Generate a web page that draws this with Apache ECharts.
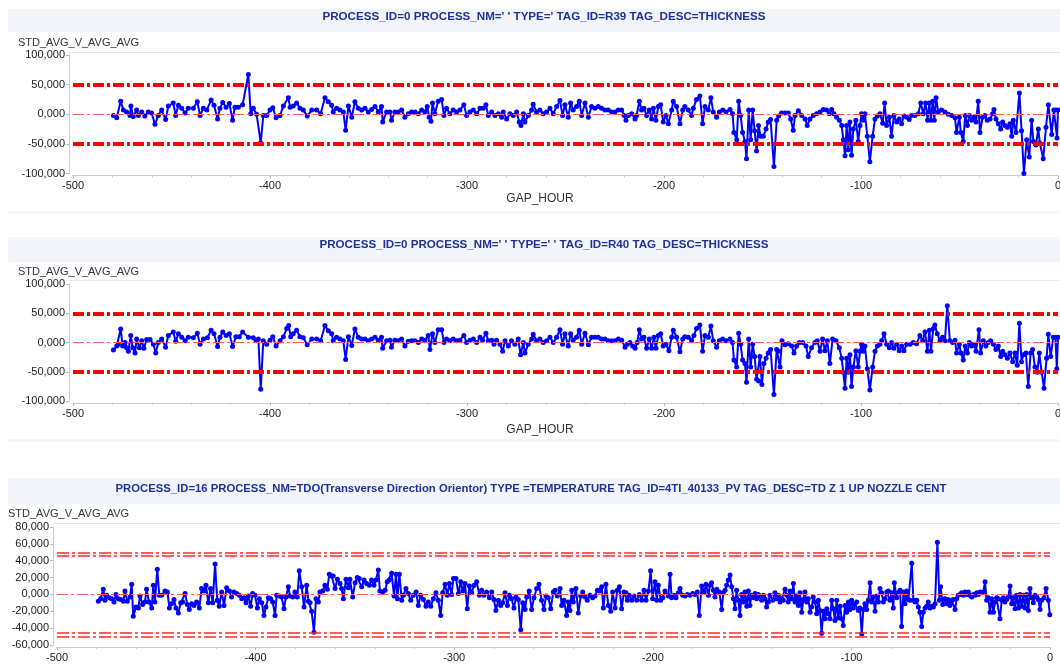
<!DOCTYPE html>
<html><head><meta charset="utf-8">
<script src="https://cdn.jsdelivr.net/npm/echarts@6/dist/echarts.min.js"></script>
<style>html,body{margin:0;padding:0;background:#fff}#c{width:1060px;height:666px}</style>
</head><body><div id="c"></div>
<script>
const panelTitles = [
  "PROCESS_ID=0 PROCESS_NM=' ' TYPE=' TAG_ID=R39 TAG_DESC=THICKNESS",
  "PROCESS_ID=0 PROCESS_NM=' ' TYPE=' ' TAG_ID=R40 TAG_DESC=THICKNESS",
  "PROCESS_ID=16 PROCESS_NM=TDO(Transverse Direction Orientor) TYPE =TEMPERATURE TAG_ID=4TI_40133_PV TAG_DESC=TD Z 1 UP NOZZLE CENT"
];
const yAxisName = 'STD_AVG_V_AVG_AVG';
const xAxisName = 'GAP_HOUR';
const xRange = [-500, 0];
const xStep = 100;
const thicknessRange = [-100000, 100000];
const thicknessStep = 50000;
const tempRange = [-60000, 80000];
const tempStep = 20000;
const thicknessLimits = [50000, -50000];
const tempLimits = [50000, 45500, -45500, -50000];
const centerValue = 0;

// [GAP_HOUR, STD_AVG_V_AVG_AVG]
const r39Points = [
[-479.5,-2000],[-477.8,-6000],[-475.8,22000],[-474.4,7000],[-472.8,4000],[-471.1,-2000],[-470.6,14000],[-469.4,-4000],[-467.7,7000],[-466.8,-2000],[-465.1,4000],[-463.5,-3000],[-461.8,4000],[-460.1,2000],[-458.4,-17000],[-456.7,-2000],[-455,7000],[-453,-9000],[-451.6,14000],[-449.1,19000],[-447.9,-2000],[-446.5,15000],[-444.8,10000],[-443.1,2000],[-441.5,10000],[-438.9,10000],[-436.9,21000],[-435.5,-2000],[-433.8,10000],[-432.1,7000],[-429.9,24000],[-428.4,15000],[-426.6,-8000],[-425.4,10000],[-424,20000],[-422.3,12000],[-420.6,18000],[-419,-10000],[-417.8,12000],[-416.1,12000],[-413.9,16000],[-411,67000],[-409.8,1000],[-408.5,10000],[-406.8,0],[-404.7,-48000],[-403.4,-2000],[-401.7,-2000],[-400,7000],[-398.6,11000],[-396.9,-6000],[-394.9,-2000],[-393.2,14000],[-390.7,28000],[-389.8,12000],[-388.2,14000],[-386.5,19000],[-384.8,10000],[-383.1,7000],[-381.1,-3000],[-378.8,7000],[-376.3,7000],[-374.3,1000],[-372.1,28000],[-370.4,21000],[-368.7,15000],[-367.9,4000],[-366.2,10000],[-364.5,7000],[-362.8,4000],[-361.6,-27000],[-360.2,14000],[-358.5,-5000],[-356.9,21000],[-355.2,10000],
[-353.5,7000],[-351.8,10000],[-350.1,4000],[-348.4,8000],[-346.7,13000],[-345,4000],[-343.4,13000],[-342.8,-13000],[-340.8,4000],[-339.1,4000],[-338.3,-10000],[-336.6,4000],[-334.9,4000],[-333.2,7000],[-331.5,-5000],[-329.8,1000],[-328.1,4000],[-326.4,4000],[-324.7,1000],[-323,7000],[-321.4,4000],[-320.2,13000],[-319.2,-5000],[-318.3,-12000],[-317.5,19000],[-316.3,1000],[-314.6,22000],[-312.9,25000],[-311.7,-2000],[-310.4,10000],[-308.7,1000],[-307,7000],[-305.3,4000],[-303.6,7000],[-301.6,16000],[-300.2,-2000],[-298.5,4000],[-296.8,7000],[-295.1,1000],[-293.4,10000],[-291.7,10000],[-290.4,16000],[-289.2,-2000],[-287.5,4000],[-285.8,-2000],[-284.1,1000],[-282.4,-5000],[-281.6,4000],[-279.9,-8000],[-278.2,1000],[-276.5,-2000],[-274.8,4000],[-273.5,-13000],[-272.6,-19000],[-271.4,1000],[-270.6,-13000],[-268.9,-2000],[-267.2,7000],[-266.4,17000],[-264.7,4000],[-263,7000],[-261.3,1000],[-259.6,4000],[-257.9,10000],[-256.2,1000],[-254.5,13000],[-252.8,23000],[-251.5,-2000],[-250.3,16000],[-248.6,-5000],[-247.4,19000],[-246.1,7000],[-244.4,13000],[-243,22000],[-241.8,-2000],[-240.1,19000],[-238.4,-5000],[-236.8,13000],[-235.1,10000],[-233.4,13000],[-231.7,10000],[-230,7000],[-228.3,7000],[-226.6,4000],[-224.9,4000],[-223.2,7000],[-221.5,7000],[-220.3,-2000],[-219.3,-10000],[-218.1,-2000],[-216.4,1000],[-214.7,-8000],[-213.9,-2000],[-212.5,22000],[-211.4,7000],[-210.2,10000],[-208.8,-2000],[-207.5,7000],[-206.3,-8000],[-205.4,10000],[-204.1,-10000],[-202.9,13000],[-201.7,16000],[-200.4,-13000],[-199,-2000],[-197.8,-16000],[-196.1,7000],[-195.3,22000],[-193.6,13000],[-191.9,-16000],[-190.5,7000],[-189.4,13000],[-187.7,7000],[-186,-2000],[-185.1,10000],[-183.5,25000],[-181.8,31000],
[-180.4,-16000],[-179.2,13000],[-177.5,7000],[-176.2,28000],[-175,4000],[-173.3,-5000],[-171.9,4000],[-170.2,7000],[-168.5,4000],[-166.5,8000],[-165.2,1000],[-164.5,-31000],[-163.1,-43000],[-162.1,22000],[-161.1,-2000],[-160.1,-31000],[-158.9,-46000],[-158.1,-75000],[-157,7000],[-156,-43000],[-155,7000],[-154,-28000],[-153,-62000],[-152,-19000],[-151,-37000],[-149.6,-37000],[-148.2,-25000],[-147.1,-13000],[-145.9,-9000],[-144.2,-88000],[-142.8,-10000],[-141.8,-3000],[-140.3,2000],[-138.6,2000],[-136.9,2000],[-135.7,-8000],[-134.4,-27000],[-133.5,-2000],[-131.8,6000],[-130.1,-2000],[-128.4,-8000],[-127.3,-19000],[-125.9,-8000],[-124.2,-2000],[-122.5,1000],[-120.8,4000],[-119.1,8000],[-117.5,7000],[-116.1,1000],[-114.9,8000],[-113.7,1000],[-112.4,-5000],[-111,-10000],[-109.8,-19000],[-109,-43000],[-108.1,-70000],[-107.3,-19000],[-106.5,-60000],[-105.6,-13000],[-104.8,-69000],[-103.9,-25000],[-102.6,-10000],[-101.4,-46000],[-100.5,-19000],[-99.7,1000],[-98.8,-10000],[-98,1000],[-96.8,-37000],[-95.5,-80000],[-94.1,-37000],[-92.9,-8000],[-91.7,-3000],[-90.4,1000],[-89,-15000],[-88,19000],[-87,-19000],[-85.6,-5000],[-84.5,-37000],[-83.3,-2000],[-81.9,-13000],[-80.6,-8000],[-79.4,-16000],[-78.2,-3000],[-76.8,-5000],[-75.5,-9000],[-74.3,-2000],[-72.6,-2000],[-70.9,1000],[-69.7,19000],[-68.4,1000],[-67.2,19000],[-66.2,-10000],[-65.3,19000],[-64.5,-10000],[-63.6,22000],[-62.8,-10000],[-61.9,28000],[-60.8,4000],[-59.1,7000],[-57.4,4000],[-55.7,0],[-54,-2000],[-52.3,-6000],[-51.5,-31000],[-50.1,-5000],[-49.3,-31000],[-48.1,-46000],[-47.1,-2000],[-46,-19000],[-45,-2000],[-43.8,-10000],[-42.7,-5000],[-41.6,-13000],[-40.5,22000],[-39.6,-31000],[-38.3,-5000],[-37.1,-2000],[-35.9,-10000],[-34.5,-8000],[-33.2,1000],[-32.5,8000],[-31.5,-8000],[-30.3,-16000],[-29.1,-25000],[-28.1,-13000],[-26.9,-19000],[-25.7,-22000],[-24.4,-16000],[-23.5,-37000],[-22.7,-10000],[-21.3,-31000],[-19.6,36000],[-18.5,-28000],[-17.3,-100000],[-15.9,-43000],[-14.6,-72000],[-13.4,-10000],[-12.5,-46000],[-11.2,-52000],[-10,-25000],[-9.2,-49000],[-7.5,-75000],[-6.1,-22000],[-4.9,16000],[-3.2,-34000],[-2.1,7000],[-1.2,7000],[-0.5,-40000],[0,7000]
];

const r40Points = [
[-479.5,-13000],[-477.8,-6000],[-477,-3000],[-475.8,23000],[-474.8,-6000],[-473.6,0],[-472.8,-9000],[-471.9,-15000],[-470.7,12000],[-469.7,-9000],[-468.5,-18000],[-467.7,6000],[-466.3,-9000],[-465.1,3000],[-464,-10000],[-462.6,5000],[-460.9,5000],[-459.2,-3000],[-458,-18000],[-456.7,0],[-455,6000],[-453,-8000],[-451.6,12000],[-449.1,18000],[-447.9,2000],[-446.5,15000],[-444.8,9000],[-443.1,3000],[-441.5,9000],[-438.9,8000],[-436.9,16000],[-435.5,-3000],[-433.8,6000],[-431.8,8000],[-429.9,21000],[-428.4,15000],[-426.6,-7000],[-425.4,9000],[-424,18000],[-422.3,12000],[-420.6,15000],[-419,-7000],[-417.3,10000],[-415.6,10000],[-413.9,18000],[-411,9000],[-408.5,8000],[-407.1,3000],[-405.9,6000],[-404.7,-80000],[-403.4,3000],[-401.7,-3000],[-400,4000],[-398.6,10000],[-396.9,-6000],[-394.9,3000],[-393.2,10000],[-391.5,24000],[-390.5,29000],[-389.5,10000],[-388.2,15000],[-386.5,21000],[-384.8,10000],[-383.1,8000],[-381.1,-4000],[-378.8,6000],[-376.3,6000],[-374.3,3000],[-372.1,29000],[-370.4,20000],[-368.7,15000],[-367.9,3000],[-366.2,9000],[-364.5,6000],[-362.8,3000],[-361.6,-29000],[-360.2,10000],[-358.5,-5000],[-356.9,23000],[-355.2,9000],
[-353.5,6000],[-351.8,6000],[-350.1,3000],[-348.4,6000],[-346.7,9000],[-345,4000],[-343.4,9000],[-342.8,-10000],[-340.8,3000],[-339.1,4000],[-338.3,-8000],[-336.6,4000],[-334.9,3000],[-333.2,6000],[-331.5,-6000],[-329.8,2000],[-328.1,3000],[-326.4,3000],[-324.7,0],[-323,6000],[-321.4,4000],[-319.7,12000],[-318.8,-12000],[-317.5,15000],[-316.3,0],[-314.6,22000],[-312.9,22000],[-311.7,0],[-310.4,6000],[-308.7,3000],[-307,6000],[-305.3,3000],[-303.6,4000],[-301.6,12000],[-300.2,0],[-298.5,4000],[-296.8,6000],[-295.1,0],[-293.4,9000],[-292.1,4000],[-290.4,16000],[-289.2,3000],[-287.5,4000],[-286.3,-3000],[-285,4000],[-283.3,-3000],[-281.9,-15000],[-280.7,3000],[-279,-6000],[-277.4,3000],[-275.7,-3000],[-274,6000],[-272.8,-21000],[-271.4,0],[-270.6,-18000],[-268.9,-3000],[-267.2,6000],[-266.4,14000],[-264.7,3000],[-263,6000],[-261.3,0],[-259.6,3000],[-257.9,9000],[-256.2,0],[-254.5,9000],[-252.8,22000],[-251.5,-3000],[-250.3,15000],[-248.6,-6000],[-247.4,15000],[-246.1,4000],[-244.4,9000],[-243,21000],[-241.8,-3000],[-240.1,16000],[-238.4,-4000],[-236.8,9000],[-235.1,9000],[-233.4,9000],[-231.7,6000],[-230,6000],[-228.3,3000],[-226.6,3000],[-224.9,3000],[-223.2,6000],[-221.5,4000],[-219.8,-8000],[-218.6,-3000],[-217.3,0],[-215.9,-6000],[-214.7,-10000],[-213.6,0],[-212.5,22000],[-211.4,6000],[-210.2,9000],[-208.8,-10000],[-207.5,6000],[-206.3,-10000],[-205.1,9000],[-204.1,-10000],[-202.9,12000],[-201.7,15000],[-200.4,-6000],[-199,-3000],[-197.5,-14000],[-196.1,9000],[-195.3,21000],[-193.6,9000],[-191.9,-16000],[-190.5,6000],[-189.4,10000],[-187.7,9000],[-186,4000],[-184.8,12000],[-183.5,24000],[-181.8,30000],
[-180.4,-15000],[-179.2,12000],[-177.5,9000],[-176.2,28000],[-175,3000],[-173.3,-8000],[-171.9,3000],[-170.2,6000],[-168.5,3000],[-166.5,6000],[-165.2,0],[-164.5,-30000],[-163.1,-42000],[-162.1,16000],[-161.1,-3000],[-160.1,-30000],[-158.9,-36000],[-158.1,-68000],[-157,6000],[-156,-42000],[-155,-3000],[-154,-24000],[-153,-63000],[-152,-66000],[-151.3,-24000],[-150.3,-72000],[-149.3,-36000],[-148.2,-27000],[-147.1,-18000],[-145.9,-12000],[-144.2,-89000],[-142.8,-12000],[-141.8,-15000],[-141.1,-42000],[-140.1,3000],[-138.6,-4000],[-136.9,-2000],[-135.2,-6000],[-134,-18000],[-132.7,-6000],[-131.3,0],[-129.6,0],[-127.9,-6000],[-126.8,-24000],[-125.1,-9000],[-123.4,0],[-122.2,3000],[-120.8,-15000],[-119.5,6000],[-118.3,-14000],[-117.1,3000],[-115.8,-36000],[-114.4,6000],[-112.7,3000],[-111,-9000],[-109.8,-27000],[-109,-51000],[-108.1,-78000],[-107.3,-27000],[-106.5,-51000],[-105.6,-21000],[-104.8,-75000],[-103.9,-42000],[-102.6,-14000],[-101.4,-42000],[-100.5,-15000],[-99.7,-3000],[-98.8,-15000],[-98,-6000],[-96.8,-45000],[-95.5,-81000],[-94.1,-42000],[-92.9,-15000],[-91.7,-6000],[-90.4,-3000],[-89.5,3000],[-88.3,15000],[-87,-3000],[-85.6,-9000],[-84.5,0],[-83.3,-10000],[-81.9,-3000],[-80.6,-14000],[-79.4,-6000],[-78.2,-14000],[-76.8,-3000],[-75.1,-3000],[-73.5,0],[-71.8,-2000],[-70.1,12000],[-68.7,3000],[-67.5,18000],[-66.3,-15000],[-65.3,21000],[-64.5,-15000],[-63.3,24000],[-62.5,30000],[-61.3,15000],[-59.9,3000],[-58.6,9000],[-57.4,3000],[-56.2,63000],[-54.9,3000],[-53.5,0],[-52.3,4000],[-51.5,-18000],[-50.1,-3000],[-49.3,-18000],[-48.1,-30000],[-47.1,-6000],[-46,-18000],[-45,0],[-43.8,-6000],[-42.7,-3000],[-41.6,-15000],[-40.1,22000],[-39.3,-18000],[-37.9,3000],[-36.6,-6000],[-35.4,0],[-34.2,3000],[-32.8,-3000],[-31.5,-12000],[-30.3,-6000],[-29.1,-24000],[-28.1,-15000],[-26.9,-21000],[-25.7,-27000],[-24.4,-18000],[-23,-33000],[-21.8,-18000],[-20.7,-39000],[-19.6,33000],[-18.5,-33000],[-17.6,-21000],[-16.3,-18000],[-15.1,-75000],[-13.9,-18000],[-12.9,-12000],[-11.7,-42000],[-10.5,-51000],[-9.5,-18000],[-8.3,-51000],[-7.1,-78000],[-5.8,-27000],[-4.9,14000],[-3.7,-24000],[-2.4,9000],[-1.3,9000],[-0.6,-45000],[0,9000]
];

const tdoPoints = [
[-479.2,-8000],[-478,-5000],[-476.7,6000],[-475.8,-7000],[-475,-1000],[-473.6,-4000],[-472.5,-5000],[-471.3,-9000],[-470.3,0],[-469.1,-5000],[-467.9,-6000],[-466.6,-8000],[-465.8,4000],[-464.6,-8000],[-463.2,-3000],[-462.4,12000],[-461.6,-26000],[-460.2,-15000],[-459,-16000],[-458.2,-2000],[-456.9,-12000],[-455.7,-9000],[-454.9,6000],[-453.7,-9000],[-452.3,-16000],[-451.5,11000],[-450.7,-9000],[-449.5,30000],[-448.5,-1000],[-447.3,-1000],[-445.6,4000],[-444.4,3000],[-443.4,-16000],[-442.3,-11000],[-441.1,-6000],[-440.1,-16000],[-438.9,-22000],[-437.7,-10000],[-436.7,-9000],[-435.5,1000],[-434.4,-12000],[-433.4,-18000],[-432.2,-11000],[-431,-13000],[-429.7,-9000],[-428.3,-16000],[-427.2,7000],[-426,4000],[-425,11000],[-423.8,-10000],[-422.7,7000],[-421.6,-10000],[-420.4,36000],[-419.3,-7000],[-418.3,-14000],[-417.1,3000],[-415.9,-13000],[-414.6,8000],[-413.2,4000],[-412.1,-3000],[-410.9,3000],[-409.5,1000],[-408.2,-1000],[-407,-5000],[-405.8,-4000],[-404.8,-10000],[-403.7,-2000],[-402.5,-14000],[-401.5,1000],[-400.3,-1000],[-399.1,-16000],[-398.1,-5000],[-396.9,-10000],[-395.8,-25000],[-394.8,-15000],[-393.6,-4000],[-392.4,-5000],[-391.4,-9000],[-390.2,-25000],[-389.4,-1000],[-388,-2000],[-386.9,-3000],[-385.7,-17000],[-384.7,-3000],[-383.5,9000],[-382.7,-2000],[-381.3,-3000],[-380.2,3000],[-379,-3000],[-378,28000],[-376.8,9000],[-375.6,-15000],[-374.3,11000],[-373.4,-8000],[-372.6,-10000],[-371.8,-20000],[-370.6,-45000],[-369.6,-5000],[-368.4,-9000],[-367.6,3000],[-366.2,4000],[-365.1,11000],[-363.9,6000],[-362.9,24000],[-361.7,22000],[-360.9,22000],[-360,7000],[-358.8,18000],[-357.5,13000],[-356.7,7000],[-355.8,-5000],[-354.5,18000],[-353.3,8000],[-352.5,18000],[-351.1,-3000],[-349.9,14000],[-348.8,20000],
[-347.8,19000],[-346.6,9000],[-345.4,17000],[-344.1,13000],[-342.7,11000],[-341.6,17000],[-340.4,11000],[-339.4,17000],[-338.2,29000],[-337.4,4000],[-336,3000],[-334.8,5000],[-333.7,15000],[-332.7,17000],[-331.5,25000],[-330.3,-2000],[-329.3,24000],[-328.6,-5000],[-327.6,24000],[-326.4,-7000],[-325.6,-1000],[-324.3,7000],[-323.1,1000],[-321.9,-7000],[-320.6,-1000],[-319.2,3000],[-318.1,-13000],[-316.9,-1000],[-315.5,-6000],[-314.2,-14000],[-313,-9000],[-311.8,-14000],[-310.5,-5000],[-309.2,2000],[-308,-7000],[-306.8,-25000],[-305.8,2000],[-304.6,12000],[-303.5,-1000],[-302.4,13000],[-301.3,0],[-300.4,19000],[-299.1,19000],[-297.9,1000],[-296.7,15000],[-295.7,4000],[-294.6,13000],[-293.4,-17000],[-292.4,10000],[-291.2,2000],[-290,11000],[-288.7,15000],[-287.3,-1000],[-286.2,5000],[-285,-1000],[-283.7,3000],[-282.3,-4000],[-281.1,3000],[-280,-6000],[-279,-19000],[-277.8,-7000],[-276.6,-13000],[-275.6,-10000],[-274.4,2000],[-273.2,-13000],[-272.2,-1000],[-271.1,-5000],[-269.9,-16000],[-268.9,-3000],[-267.7,-6000],[-266.5,-42000],[-265.5,-10000],[-264.3,-18000],[-263.5,-3000],[-262.2,4000],[-261,-18000],[-259.8,-4000],[-258.5,7000],[-257.3,12000],[-256,-7000],[-254.8,-18000],[-253.8,-2000],[-252.6,-4000],[-251.4,-17000],[-250.1,3000],[-249.2,5000],[-248.1,-2000],[-246.7,7000],[-245.9,-13000],[-244.7,-7000],[-243.4,-25000],[-242.5,-9000],[-241.7,-19000],[-240.8,5000],[-240,-9000],[-238.7,7000],[-237.5,-22000],[-236.3,-2000],[-235.3,3000],[-234.1,-3000],[-233,-7000],[-231.6,-1000],[-230.3,-4000],[-229.1,-2000],[-227.9,5000],[-226.9,4000],[-225.7,9000],[-224.9,-16000],[-223.6,12000],[-222.4,-13000],[-221.2,-20000],[-220.2,3000],[-219,-16000],[-217.9,5000],[-216.8,9000],[-215.7,-17000],[-214.5,3000],[-213.5,2000],[-212.8,-7000],[-211.8,-1000],[-210.6,-7000],[-209.5,-2000],[-208.1,-7000],[-206.8,0],[-205.6,-7000],[-204.4,5000],[-203.4,-7000],[-202.2,4000],[-201.1,28000],[-200.1,-5000],[-198.9,15000],[-198,-7000],[-197.2,11000],[-196,-7000],[-195,-4000],[-193.9,4000],[-192.2,-2000],[-191.3,24000],[-190.5,-4000],[-189.3,-1000],[-188.3,-4000],[-187.1,2000],[-186.3,7000],[-185,-1000],[-183.8,-2000],[-182.6,0],[-181.3,-1000],[-179.9,1000],[-178.8,0],[-177.6,3000],[-176.6,-25000],
[-175.4,10000],[-174.2,3000],[-173.2,12000],[-172,-1000],[-171.2,11000],[-170.4,14000],[-169.5,5000],[-168.7,-3000],[-167.8,6000],[-166.5,3000],[-165.3,-18000],[-164.5,2000],[-163.6,5000],[-162.8,11000],[-162,17000],[-161.1,23000],[-160.3,9000],[-159.4,-5000],[-158.6,-17000],[-157.8,5000],[-156.9,-7000],[-156.1,-25000],[-155.3,0],[-154.4,-9000],[-153.6,3000],[-152.7,-14000],[-151.9,4000],[-151.1,-13000],[-150.2,-1000],[-149.4,-4000],[-148.5,1000],[-147.7,-5000],[-146.9,0],[-146,-2000],[-145.2,-7000],[-144.3,-1000],[-143.5,-5000],[-142.7,-15000],[-141.8,-9000],[-141,-1000],[-139.6,-7000],[-138.5,2000],[-137.6,-5000],[-136.8,-1000],[-135.9,-9000],[-135.1,-5000],[-134.3,-7000],[-133.4,6000],[-132.6,-1000],[-131.8,-9000],[-130.9,4000],[-130.1,-5000],[-129.2,13000],[-128.4,-9000],[-127.6,-2000],[-126.7,-13000],[-125.9,2000],[-125,-21000],[-124.2,-6000],[-123.4,3000],[-122.5,-9000],[-121.7,-5000],[-120.8,-21000],[-120,-15000],[-119.2,-3000],[-118.3,-9000],[-117.5,-23000],[-116.6,-7000],[-115.8,-19000],[-115,-46000],[-114.1,-20000],[-113.3,-29000],[-112.4,-17000],[-111.6,-23000],[-110.8,-29000],[-109.9,-7000],[-109.1,-17000],[-108.3,-31000],[-107.4,-7000],[-106.6,-28000],[-105.7,-14000],[-104.9,-29000],[-104.1,-37000],[-103.2,-13000],[-102.4,-21000],[-101.5,-9000],[-100.7,-18000],[-99.9,-7000],[-99,-16000],[-98.2,-11000],[-97.3,-9000],[-96.5,-19000],[-95.7,-16000],[-94.8,-47000],[-94,-18000],[-93.2,-11000],[-92.3,-18000],[-91.5,-7000],[-90.6,14000],[-89.8,-9000],[-89,-3000],[-88.1,-20000],[-87.3,-2000],[-86.4,-9000],[-85.6,7000],[-84.8,2000],[-83.9,-9000],[-83.1,-5000],[-82.2,3000],[-81.4,4000],[-80.6,-7000],[-79.7,2000],[-78.9,-16000],[-78.4,14000],[-77.2,-4000],[-76.4,2000],[-75.5,5000],[-74.7,-38000],[-73.8,3000],[-73,-11000],[-72.2,4000],[-71.3,-6000],[-70.5,-7000],[-69.6,37000],[-68.8,-7000],[-68,-9000],[-67.1,-7000],[-66.3,-15000],[-65.5,-21000],[-64.6,-38000],[-63.8,-21000],[-62.9,-16000],[-62.1,-14000],[-61.3,-9000],[-60.4,-16000],[-59.6,-14000],[-58.7,-15000],[-57.9,-11000],[-56.7,62000],[-55.7,-7000],[-55.1,9000],[-54,-12000],[-52.9,-5000],[-52,-11000],[-51.2,-6000],[-50.4,-13000],[-49.5,-7000],[-48.7,-6000],[-47.8,-18000],[-47,-5000],[-46.2,-1000],[-45.3,0],[-44.5,2000],[-43.6,-1000],[-42.8,3000],[-42,0],[-41.1,3000],[-40.3,-1000],[-39.4,-3000],[-38.6,0],[-37.8,-1000],[-36.9,2000],[-36.1,0],[-35.2,3000],[-34.4,2000],[-33.6,3000],[-32.7,15000],[-31.9,-7000],[-31.1,-4000],[-30.2,-21000],[-29.4,-5000],[-28.5,-21000],[-27.7,-9000],[-26.9,-4000],[-26,-5000],[-25.2,-29000],[-24.3,-7000],[-23.5,-4000],[-22.7,-9000],[-21.8,-6000],[-21,-3000],[-20.1,10000],[-19.3,-11000],[-18.5,-4000],[-17.6,-17000],[-16.8,-1000],[-15.9,-16000],[-15.1,0],[-14.3,-14000],[-13.4,-1000],[-12.6,-16000],[-11.8,0],[-10.9,-19000],[-10.1,7000],[-9.2,-4000],[-8.4,-10000],[-7.6,-1000],[-6.7,-3000],[-5.9,-6000],[-5,-18000],[-4.2,-7000],[-3,-4000],[-2,7000],[-0.8,-7000],[-0.1,-24000]
];

const chart = echarts.init(document.getElementById('c'), null, {renderer: 'canvas'});
const tickFont = 'Liberation Sans, Arial, sans-serif';
const textFont = 'Liberation Sans, Arial, sans-serif';
const BLUE = '#0000ff';
const RED = '#ff0000';

function yFmt(v) { return v === 0 ? '0,000' : v.toLocaleString('en-US'); }

const grids = [
  {left: 73, right: 2, top: 55, height: 118.5, outerBoundsMode: 'none'},
  {left: 73, right: 2, top: 284, height: 117, outerBoundsMode: 'none'},
  {left: 57, right: 10, top: 527, height: 118, outerBoundsMode: 'none'}
];

function xAx(i) {
  return {
    type: 'value', gridIndex: i, min: xRange[0], max: xRange[1], interval: xStep, offset: 2,
    axisLine: {show: true, onZero: false, lineStyle: {color: '#cccccc'}},
    axisTick: {show: true, length: 3, lineStyle: {color: '#bbbbbb'}},
    minorTick: {show: true, splitNumber: 5, length: 2, lineStyle: {color: '#cccccc'}},
    splitLine: {show: false},
    axisLabel: {color: '#222', fontFamily: tickFont, fontSize: 11, margin: 5}
  };
}
function yAx(i, range, step) {
  return {
    type: 'value', gridIndex: i, min: range[0], max: range[1], interval: step, offset: 4,
    axisLine: {show: true, onZero: false, lineStyle: {color: '#cccccc'}},
    axisTick: {show: true, length: 3, lineStyle: {color: '#bbbbbb'}},
    splitLine: {show: false},
    axisLabel: {color: '#222', fontFamily: tickFont, fontSize: 11, margin: 4, formatter: yFmt}
  };
}

function limitSeries(i, limits, thick) {
  const items = limits.map(v => ({
    yAxis: v,
    lineStyle: thick
      ? {color: RED, width: 4, type: [11, 3, 3, 3]}
      : {color: '#ff2a2a', width: 1.6, type: [12, 3, 3, 3]}
  }));
  items.push({yAxis: centerValue, lineStyle: {color: '#ff5a5a', width: 1, type: [11, 3, 3, 3]}});
  return {
    type: 'line', xAxisIndex: i, yAxisIndex: i, data: [], z: 1, silent: true,
    markLine: {silent: true, symbol: 'none', animation: false, label: {show: false}, data: items}
  };
}
function dataSeries(i, pts) {
  return {
    type: 'line', xAxisIndex: i, yAxisIndex: i, data: pts, z: 3,
    symbol: 'circle', symbolSize: 5, showAllSymbol: true,
    lineStyle: {color: BLUE, width: 2}, itemStyle: {color: BLUE},
    animation: false
  };
}

const bands = [
  {y: 9, h: 23, ty: 16.5, tx: 544, fs: 11.6},
  {y: 237, h: 25, ty: 245, tx: 544, fs: 11.6},
  {y: 478, h: 26, ty: 488.5, tx: 531, fs: 11.3}
];
const graphic = [];
bands.forEach((b, i) => {
  graphic.push({type: 'rect', shape: {x: 8, y: b.y, width: 1052, height: b.h}, style: {fill: '#f4f5fb'}, z: -1, silent: true});
  graphic.push({type: 'text', x: b.tx, y: b.ty, silent: true,
    style: {text: panelTitles[i], font: 'bold ' + b.fs + 'px ' + textFont, fill: '#1f3296', align: 'center', verticalAlign: 'middle'}});
});
[211, 439].forEach(y => graphic.push({type: 'rect', shape: {x: 8, y: y, width: 1052, height: 3}, style: {fill: '#f4f5f9'}, silent: true}));
[[69, 52], [69, 280], [53, 523]].forEach(p => graphic.push({type: 'line', shape: {x1: p[0], y1: p[1] + 0.5, x2: 1060, y2: p[1] + 0.5}, style: {stroke: '#e6e6e6', lineWidth: 1}, silent: true}));
[[18, 43], [18, 272], [8, 514]].forEach(p => graphic.push({type: 'text', x: p[0], y: p[1], silent: true,
  style: {text: yAxisName, font: '11px ' + textFont, fill: '#333', align: 'left', verticalAlign: 'middle'}}));
[[540, 199], [540, 430]].forEach(p => graphic.push({type: 'text', x: p[0], y: p[1], silent: true,
  style: {text: xAxisName, font: '12px ' + textFont, fill: '#333', align: 'center', verticalAlign: 'middle'}}));

chart.setOption({
  animation: false,
  backgroundColor: '#ffffff',
  grid: grids,
  xAxis: [xAx(0), xAx(1), xAx(2)],
  yAxis: [yAx(0, thicknessRange, thicknessStep), yAx(1, thicknessRange, thicknessStep), yAx(2, tempRange, tempStep)],
  series: [
    limitSeries(0, thicknessLimits, true), dataSeries(0, r39Points),
    limitSeries(1, thicknessLimits, true), dataSeries(1, r40Points),
    limitSeries(2, tempLimits, false), dataSeries(2, tdoPoints)
  ],
  graphic: graphic
});
</script>
</body></html>
